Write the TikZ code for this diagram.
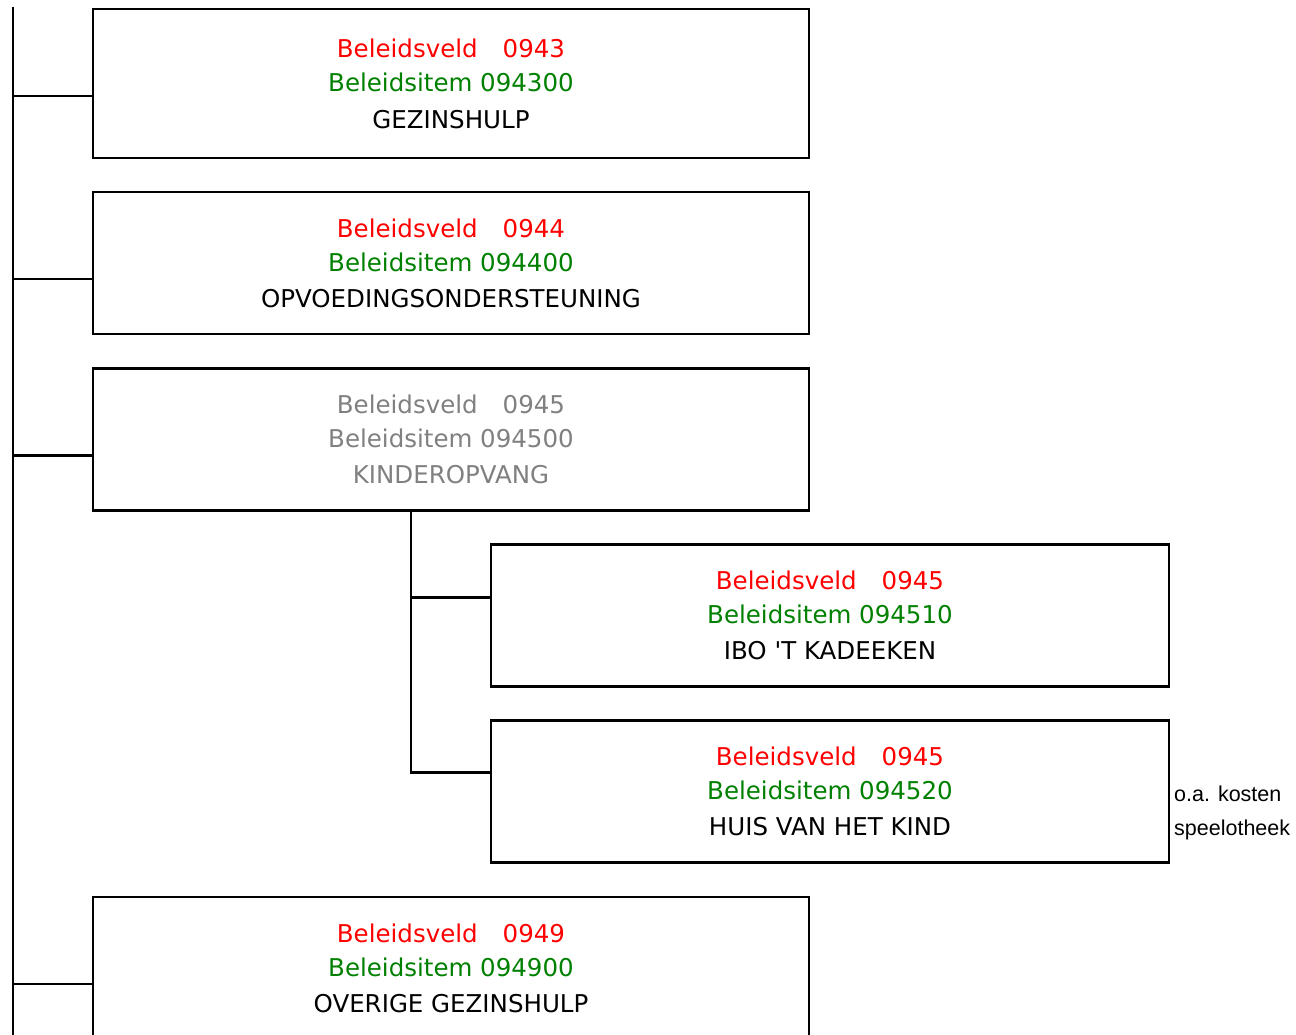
\documentclass[tikz,border=0pt]{standalone}
\usepackage{fontspec}
\setmainfont{DejaVu Sans}
\newfontfamily\notefont{Liberation Sans}
\definecolor{bvred}{RGB}{255,0,0}
\definecolor{bvgreen}{RGB}{0,128,0}
\definecolor{bvgray}{RGB}{128,128,128}
\begin{document}
\begin{tikzpicture}[x=1pt,y=-1pt,
  bvbox/.style={draw,line width=2.2pt,rectangle,minimum width=716pt,minimum height=142pt,
    align=center,font=\fontsize{24.5}{34}\selectfont,inner sep=0pt},
  subbox/.style={bvbox,minimum width=678pt},
  conn/.style={line width=2.2pt},
  note/.style={anchor=west,align=left,font=\notefont\fontsize{21.5}{34}\selectfont,inner sep=0pt}]
\useasboundingbox (0,0) rectangle (1296,1034);
\clip (0,0) rectangle (1296,1034);
\newcommand{\bv}[1]{\textcolor{bvred}{Beleidsveld\hspace{25pt}#1}}
\newcommand{\bi}[1]{\textcolor{bvgreen}{Beleidsitem #1}}
\node[bvbox,minimum height=149pt] (b1) at (451,83.5) {\bv{0943}\\\bi{094300}\\[3pt]GEZINSHULP};
\node[bvbox] (b2) at (451,263) {\bv{0944}\\\bi{094400}\\[2pt]OPVOEDINGSONDERSTEUNING};
\node[bvbox] (b3) at (451,439.5) {\textcolor{bvgray}{Beleidsveld\hspace{25pt}0945}\\\textcolor{bvgray}{Beleidsitem 094500}\\[2pt]\textcolor{bvgray}{KINDEROPVANG}};
\node[subbox] (b4) at (830,615.5) {\bv{0945}\\\bi{094510}\\[2pt]IBO \textquotesingle T KADEEKEN};
\node[subbox] (b5) at (830,791.5) {\bv{0945}\\\bi{094520}\\[2pt]HUIS VAN HET KIND};
\node[bvbox] (b6) at (451,968) {\bv{0949}\\\bi{094900}\\[2pt]OVERIGE GEZINSHULP};
\node[note] (n1) at (1174,813) {o.a. kosten\\speelotheek};
\coordinate (ttop) at (13,7);
\coordinate (tbot) at (13,1040);
\coordinate (sub) at (411,510);
\draw[conn] (ttop) -- (tbot);
\foreach \b in {b1,b2,b3,b6} \draw[conn] ([yshift=-88pt]\b.north west) -- ([yshift=-88pt]\b.north west -| ttop);
\draw[conn] (sub) |- ([yshift=-53pt]b5.north west);
\draw[conn] ([yshift=-54pt]b4.north west) -- ([yshift=-54pt]b4.north west -| sub);
\end{tikzpicture}
\end{document}
